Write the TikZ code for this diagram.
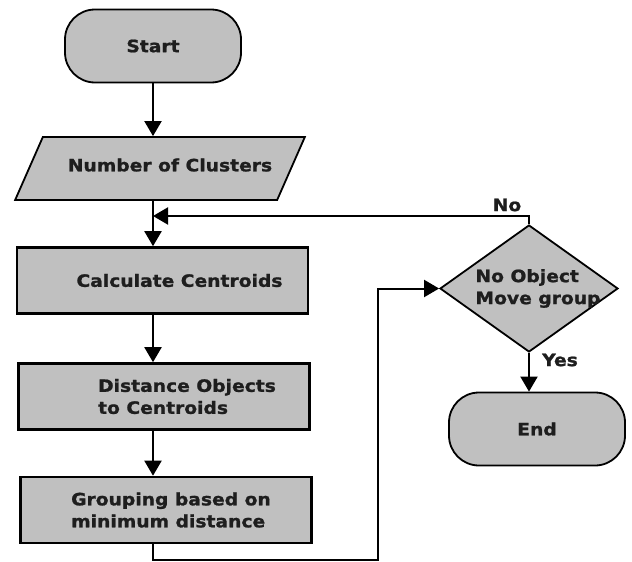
\documentclass[tikz,border=0pt]{standalone}
\usepackage{fontspec}
\newfontfamily\chartfont[FakeStretch=1.1,BoldFeatures={FakeBold=1.2}]{DejaVu Sans}
\usetikzlibrary{arrows.meta,shapes.geometric}
\definecolor{boxgray}{HTML}{C0C0C0}
\definecolor{inkgray}{HTML}{1E1E1E}
\tikzset{
	terminal/.style={draw,line width=1.8pt,fill=boxgray,rounded corners=30pt,minimum width=176pt,minimum height=73pt},%
	process/.style={draw,line width=2.6pt,fill=boxgray,minimum width=291pt,minimum height=66pt},%
	inout/.style={draw,line width=1.8pt,fill=boxgray,xslant=0.44,minimum width=262pt,minimum height=63pt},%
	decision/.style={draw,line width=1.8pt,fill=boxgray,diamond,minimum width=178pt,minimum height=127pt,inner sep=0pt},%
	boxtext/.style={text=inkgray,align=left},%
	flow/.style={line width=2pt,-{Triangle[width=17pt,length=15pt]}},%
}

\begin{document}
\begin{tikzpicture}[x=1pt,y=-1pt,font=\chartfont\bfseries\fontsize{17}{22}\selectfont]
		\useasboundingbox (0,0) rectangle (632,562);
		% Main column {{{
		\node[terminal,text=inkgray] (start) at (153,46) {Start};
		\node[inout] (clusters) at (160,168.5) {};
		\node[boxtext] (clusters-text) at (170,165) {Number of Clusters};
		\node[process,label={[boxtext,xshift=17pt]center:Calculate Centroids}] (centroids) at (162.5,280.5) {};
		\node[process,label={[boxtext,xshift=23pt]center:Distance Objects\\to Centroids}] (distance) at (164,396.5) {};
		\node[process,label={[boxtext,xshift=5pt]center:Grouping based on\\minimum distance}] (grouping) at (166,510) {};
		% }}}
		% Test and end {{{
		\node[decision,label={[boxtext,xshift=9pt]center:No Object\\Move group}] (moved) at (529,288.5) {};
		\node[terminal,text=inkgray] (stop) at (537,429) {End};
		% }}}
		\coordinate (merge) at (153,216);
		\coordinate (bend) at (378,560);
		\draw[flow] (start.south) -- (start.south |- clusters.north);
		\draw[flow] (clusters.south -| merge) -- (centroids.north -| merge);
		\draw[flow] (centroids.south -| merge) -- (distance.north -| merge);
		\draw[flow] (distance.south -| merge) -- (grouping.north -| merge);
		\draw[flow] (grouping.south -| merge) |- (bend) |- (moved.west);
		\draw[flow] (moved.north) |- (merge);
		\draw[flow] (moved.south) -- (moved.south |- stop.north);
		\node[text=inkgray] (no) at (507,205) {No};
		\node[text=inkgray] (yes) at (560,360) {Yes};
	\end{tikzpicture}
\end{document}
